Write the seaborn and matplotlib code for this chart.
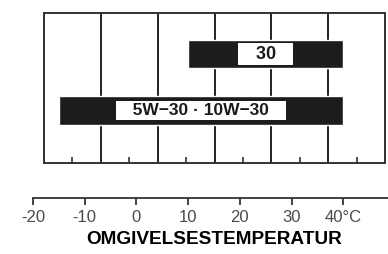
import matplotlib
matplotlib.use("Agg")
import matplotlib.pyplot as plt
import seaborn as sns
import pandas as pd
import numpy as np

# oil grades and their temperature ranges (deg C)
grades = ["30", "5W\u221230 \u00b7 10W\u221230"]
temp_low = [10, -15]
temp_high = [40, 40]

tick_values = [-20, -10, 0, 10, 20, 30, 40]
tick_labels = ["-20", "-10", "0", "10", "20", "30", "40\u00b0C"]
axis_title = "OMGIVELSESTEMPERATUR"

sns.set_style("white")
plt.rcParams["font.family"] = ["Liberation Sans", "DejaVu Sans"]

W, H = 388, 254
fig = plt.figure(figsize=(W / 100, H / 100), dpi=100)

# pixel scale of the temperature axis
px_per_deg = 5.17
x0_px = 33  # pixel position of -20


def px_to_temp(px):
    return -20 + (px - x0_px) / px_per_deg


# upper chart box
box_l, box_r, box_t, box_b = 44, 385, 13, 163
ax = fig.add_axes([box_l / W, 1 - box_b / H, (box_r - box_l) / W, (box_b - box_t) / H])

df = pd.DataFrame({"grade": grades, "low": temp_low,
                   "span": np.array(temp_high) - np.array(temp_low)})
sns.barplot(data=df, x="span", y="grade", left=df["low"], color="#1c1c1c",
            width=0.5, errorbar=None, ax=ax, zorder=2, saturation=1)

# white label plates in the middle of each bar
for i, row in df.iterrows():
    mid = row["low"] + row["span"] / 2
    ax.text(mid, i, "   " + row["grade"] + "   ", ha="center", va="center",
            fontsize=13 if i == 0 else 12.5, fontweight="bold", color="#1a1a1a", zorder=4,
            bbox=dict(facecolor="white", edgecolor="none", boxstyle="square,pad=0.12"))

xlo, xhi = px_to_temp(box_l), px_to_temp(box_r)
ax.set_xlim(xlo, xhi)
ax.set_ylim(1.93, -0.726)
grid_x = np.linspace(xlo, xhi, 7)
ax.set_xticks(grid_x)
ax.set_xticks((grid_x[:-1] + grid_x[1:]) / 2, minor=True)
ax.set_axisbelow(True)
ax.grid(axis="x", which="major", color="#222222", linewidth=1.4)
ax.tick_params(axis="x", which="major", length=0, labelbottom=False)
ax.tick_params(axis="x", which="minor", direction="in", length=4, width=1.2,
               color="#333333", bottom=True)
ax.tick_params(axis="y", left=False, labelleft=False)
ax.set_xlabel("")
ax.set_ylabel("")
for s in ax.spines.values():
    s.set_color("#333333")
    s.set_linewidth(1.4)

# separate temperature scale below
axb = fig.add_axes([x0_px / W, 1 - 198 / H, (W - x0_px) / W, 0.001])
axb.set_xlim(-20, px_to_temp(W))
axb.set_yticks([])
axb.set_xticks(tick_values)
axb.set_xticklabels(tick_labels)
axb.tick_params(axis="x", direction="out", length=5, width=1.3, color="#333333",
                labelsize=12, labelcolor="#4a4a4a", pad=3.5, bottom=True)
for side in ["top", "left", "right"]:
    axb.spines[side].set_visible(False)
axb.spines["bottom"].set_color("#333333")
axb.spines["bottom"].set_linewidth(1.3)
axb.patch.set_visible(False)

fig.text(214 / W, 1 - 239 / H, axis_title, ha="center", va="center",
         fontsize=13.7, fontweight="bold", color="black")

fig.savefig("out.png", dpi=100)
